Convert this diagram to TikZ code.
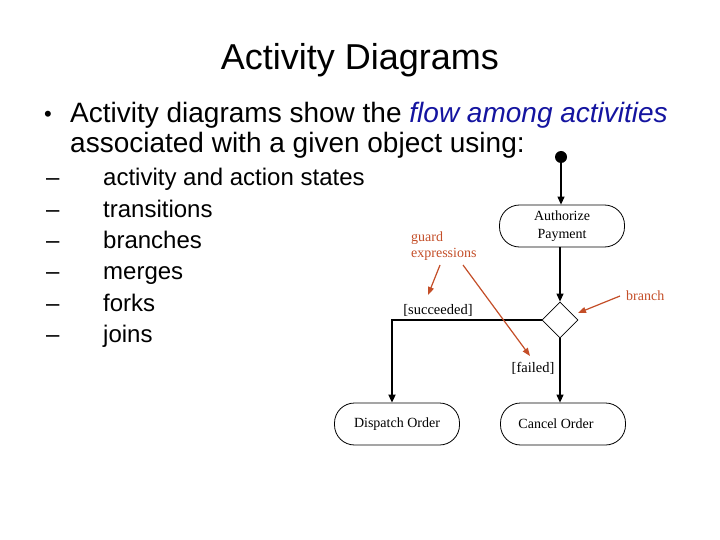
\documentclass[tikz,border=0pt]{standalone}
\usepackage{fontspec}
\setmainfont{Liberation Sans}
\newfontfamily\serifd{Liberation Serif}
\usetikzlibrary{arrows.meta,shapes.geometric}
\definecolor{annot}{RGB}{196,78,40}
\definecolor{flowblue}{RGB}{20,20,160}
\begin{document}
\begin{tikzpicture}[x=1pt,y=-1pt,
  txt/.style={anchor=base west,inner sep=0pt,font=\fontsize{24}{28}\selectfont},
  act/.style={draw,line width=0.8pt,rounded corners=20pt,minimum width=125pt,minimum height=42pt,inner sep=0pt,align=center,font=\serifd\fontsize{14}{18}\selectfont},
  flow/.style={line width=1.2pt,-{Triangle[length=8pt,width=7pt]}},
  ann/.style={annot,line width=1.2pt,-{Triangle[length=8pt,width=6pt]}},
  annlbl/.style={annot,inner sep=0pt,anchor=base west,align=left,font=\serifd\fontsize{14}{18}\selectfont},
  guard/.style={inner sep=0pt,font=\serifd\fontsize{14.5}{18}\selectfont}]
\useasboundingbox[fill=white] (0,0) rectangle (720,540);
\node[anchor=base,inner sep=0pt,font=\fontsize{36}{40}\selectfont] (title) at (360,70) {Activity Diagrams};
\node[anchor=base,inner sep=0pt,font=\fontsize{22}{28}\selectfont] (bul) at (48,122) {\textbullet};
\node[anchor=base west,inner sep=0pt,font=\fontsize{28}{32}\selectfont] (l1) at (70,123) {Activity diagrams show the \textcolor{flowblue}{\itshape flow among activities}};
\node[anchor=base west,inner sep=0pt,font=\fontsize{28}{32}\selectfont] (l2) at (70,153) {associated with a given object using:};
\foreach \t [count=\i] in {activity and action states,transitions,branches,merges,forks,joins}{
  \node[txt] (d\i) at (46,{186+31.3*(\i-1)}) {--};
  \node[txt] (s\i) at (103,{186+31.3*(\i-1)}) {\t};
}
% diagram
\node[circle,fill=black,minimum size=12pt,inner sep=0pt] (start) at (561,157) {};
\node[act] (auth) at (562,226) {Authorize\\Payment};
\node[diamond,draw,line width=0.8pt,minimum width=36pt,minimum height=36pt,inner sep=0pt] (br) at (560,320) {};
\node[act] (disp) at (397,424) {Dispatch Order};
\node[act] (canc) at (563,424) {\hspace*{-14pt}Cancel Order};
\coordinate (corner) at (392,320);
\draw[flow] (start) -- (start|-auth.north);
\draw[flow] (auth.south-|br) -- (br.north);
\draw[flow,line width=1.8pt] (br.west) -- (corner) -- (corner|-disp.north);
\draw[flow] (br.south) -- (br.south|-canc.north);
\node[guard,anchor=base] (succ) at (438,314) {[succeeded]};
\node[guard,anchor=base] (fail) at (533,372) {[failed]};
% annotations
\node[annlbl] (gex) at (411,241) {guard};
\node[annlbl] (gex2) at (411,258) {expressions};
\node[annlbl] (brl) at (626,300) {branch};
\coordinate (g1s) at (440,265);
\coordinate (g1e) at (428,295);
\coordinate (g2s) at (463,265);
\coordinate (g2e) at (530,356);
\coordinate (b1s) at (620,296);
\coordinate (b1e) at (578,313);
\draw[ann] (g1s) -- (g1e);
\draw[ann] (g2s) -- (g2e);
\draw[ann] (b1s) -- (b1e);
\end{tikzpicture}
\end{document}
